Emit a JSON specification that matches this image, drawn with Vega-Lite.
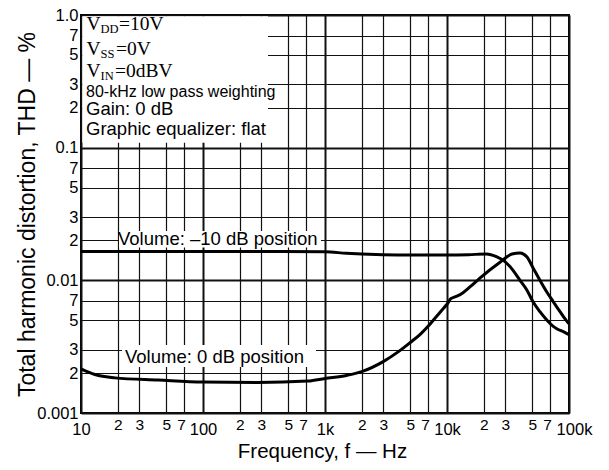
{
  "$schema": "https://vega.github.io/schema/vega-lite/v6.json",
  "width": 488,
  "height": 398,
  "autosize": {"type": "none"},
  "padding": {"left": 81, "top": 15, "right": 40, "bottom": 57},
  "background": "white",
  "config": {
    "view": {"stroke": "black", "strokeWidth": 2},
    "font": "Liberation Sans",
    "axis": {"labelFont": "Liberation Sans", "titleFont": "Liberation Sans", "labelColor": "black", "titleColor": "black", "titleFontWeight": "normal"}
  },
  "datasets": {
    "one": [{}],
    "curves": [
      {"series": "-10 dB", "freq": 10, "thd": 0.0165},
      {"series": "-10 dB", "freq": 30, "thd": 0.0165},
      {"series": "-10 dB", "freq": 100, "thd": 0.0165},
      {"series": "-10 dB", "freq": 300, "thd": 0.0165},
      {"series": "-10 dB", "freq": 1000, "thd": 0.0164},
      {"series": "-10 dB", "freq": 1500, "thd": 0.016},
      {"series": "-10 dB", "freq": 2000, "thd": 0.0158},
      {"series": "-10 dB", "freq": 3000, "thd": 0.0156},
      {"series": "-10 dB", "freq": 5000, "thd": 0.0155},
      {"series": "-10 dB", "freq": 10000, "thd": 0.0155},
      {"series": "-10 dB", "freq": 15000, "thd": 0.0156},
      {"series": "-10 dB", "freq": 21000, "thd": 0.0158},
      {"series": "-10 dB", "freq": 25700, "thd": 0.015},
      {"series": "-10 dB", "freq": 28800, "thd": 0.0142},
      {"series": "-10 dB", "freq": 32800, "thd": 0.0127},
      {"series": "-10 dB", "freq": 39700, "thd": 0.01},
      {"series": "-10 dB", "freq": 45000, "thd": 0.0085},
      {"series": "-10 dB", "freq": 50700, "thd": 0.0069},
      {"series": "-10 dB", "freq": 57800, "thd": 0.0058},
      {"series": "-10 dB", "freq": 66000, "thd": 0.005},
      {"series": "-10 dB", "freq": 74300, "thd": 0.0045},
      {"series": "-10 dB", "freq": 80000, "thd": 0.0043},
      {"series": "-10 dB", "freq": 89800, "thd": 0.0041},
      {"series": "-10 dB", "freq": 100000, "thd": 0.0039},
      {"series": "0 dB", "freq": 10, "thd": 0.00215},
      {"series": "0 dB", "freq": 13, "thd": 0.00195},
      {"series": "0 dB", "freq": 19, "thd": 0.00184},
      {"series": "0 dB", "freq": 43, "thd": 0.00177},
      {"series": "0 dB", "freq": 100, "thd": 0.00171},
      {"series": "0 dB", "freq": 280, "thd": 0.0017},
      {"series": "0 dB", "freq": 726, "thd": 0.00174},
      {"series": "0 dB", "freq": 1000, "thd": 0.00182},
      {"series": "0 dB", "freq": 1500, "thd": 0.00192},
      {"series": "0 dB", "freq": 2000, "thd": 0.00205},
      {"series": "0 dB", "freq": 3000, "thd": 0.00244},
      {"series": "0 dB", "freq": 4000, "thd": 0.0029},
      {"series": "0 dB", "freq": 5000, "thd": 0.0034},
      {"series": "0 dB", "freq": 6000, "thd": 0.0039},
      {"series": "0 dB", "freq": 7000, "thd": 0.0045},
      {"series": "0 dB", "freq": 8000, "thd": 0.0052},
      {"series": "0 dB", "freq": 9000, "thd": 0.0059},
      {"series": "0 dB", "freq": 10000, "thd": 0.0066},
      {"series": "0 dB", "freq": 10800, "thd": 0.0073},
      {"series": "0 dB", "freq": 11600, "thd": 0.0075},
      {"series": "0 dB", "freq": 12800, "thd": 0.0078},
      {"series": "0 dB", "freq": 15500, "thd": 0.00895},
      {"series": "0 dB", "freq": 18600, "thd": 0.0104},
      {"series": "0 dB", "freq": 27200, "thd": 0.0137},
      {"series": "0 dB", "freq": 34100, "thd": 0.0158},
      {"series": "0 dB", "freq": 39700, "thd": 0.0161},
      {"series": "0 dB", "freq": 45300, "thd": 0.015},
      {"series": "0 dB", "freq": 51000, "thd": 0.0123},
      {"series": "0 dB", "freq": 57800, "thd": 0.01},
      {"series": "0 dB", "freq": 65600, "thd": 0.0082},
      {"series": "0 dB", "freq": 74300, "thd": 0.0069},
      {"series": "0 dB", "freq": 84400, "thd": 0.0058},
      {"series": "0 dB", "freq": 98000, "thd": 0.0048},
      {"series": "0 dB", "freq": 100000, "thd": 0.0047}
    ]
  },
  "layer": [
    {
      "data": {"name": "curves"},
      "mark": {"type": "line", "interpolate": "monotone", "color": "black", "strokeWidth": 3},
      "encoding": {
        "x": {
          "field": "freq", "type": "quantitative",
          "scale": {"type": "log", "domain": [10, 100000]},
          "axis": {
            "title": "Frequency, f \u2014 Hz",
            "titleFontSize": 20.5,
            "titleX": 241, "titleY": 44, "titleAlign": "center", "titleBaseline": "alphabetic",
            "values": [10, 20, 30, 50, 70, 100, 200, 300, 500, 700, 1000, 2000, 3000, 5000, 7000, 10000, 20000, 30000, 50000, 70000, 100000],
            "labelExpr": "round(datum.value/pow(10,floor(log(datum.value)/LN10+1e-6)))==1 ? (datum.value>=1000 ? (datum.value/1000)+'k' : datum.value+'') : round(datum.value/pow(10,floor(log(datum.value)/LN10+1e-6)))+''",
            "labelFontSize": {"condition": {"test": "round(datum.value/pow(10,floor(log(datum.value)/LN10+1e-6)))==1", "value": 16.5}, "value": 15.5},
            "labelBaseline": {"condition": {"test": "round(datum.value/pow(10,floor(log(datum.value)/LN10+1e-6)))==1", "value": "line-top"}, "value": "top"},
            "labelOffset": {"condition": [{"test": "round(datum.value/pow(10,floor(log(datum.value)/LN10+1e-6)))==7", "value": -3}, {"test": "datum.value >= 99999", "value": 5}], "value": 0},
            "labelLineHeight": 24,
            "labelPadding": 4,
            "labelFlush": false,
            "labelOverlap": false,
            "ticks": false,
            "domain": false,
            "grid": true,
            "gridColor": "#111111",
            "gridWidth": {"condition": {"test": "round(datum.value/pow(10,floor(log(datum.value)/LN10+1e-6)))==1", "value": 2}, "value": 1.2}
          }
        },
        "y": {
          "field": "thd", "type": "quantitative",
          "scale": {"type": "log", "domain": [0.001, 1]},
          "axis": {
            "title": "Total harmonic distortion, THD \u2014 %",
            "titleFontSize": 23,
            "titleX": -47, "titleY": 199, "titleAlign": "center", "titleBaseline": "alphabetic", "titleAngle": 270,
            "values": [0.001, 0.002, 0.003, 0.005, 0.007, 0.01, 0.02, 0.03, 0.05, 0.07, 0.1, 0.2, 0.3, 0.5, 0.7, 1],
            "labelExpr": "datum.value > 0.99 ? '1.0' : (round(datum.value/pow(10,floor(log(datum.value)/LN10+1e-6)))==1 ? datum.value+'' : round(datum.value/pow(10,floor(log(datum.value)/LN10+1e-6)))+'')",
            "labelFontSize": 16.5,
            "labelPadding": 3,
            "labelFlush": false,
            "labelOverlap": false,
            "ticks": false,
            "domain": false,
            "grid": true,
            "gridColor": "#111111",
            "gridWidth": {"condition": {"test": "round(datum.value/pow(10,floor(log(datum.value)/LN10+1e-6)))==1", "value": 2}, "value": 1.2}
          }
        },
        "detail": {"field": "series"}
      }
    },
    {
      "data": {"name": "one"},
      "mark": {"type": "rect", "fill": "white"},
      "encoding": {
        "x": {"datum": 10.25, "type": "quantitative"},
        "x2": {"datum": 341},
        "y": {"datum": 0.98, "type": "quantitative"},
        "y2": {"datum": 0.109}
      }
    },
    {
      "data": {"name": "one"},
      "mark": {"type": "rect", "fill": "white"},
      "encoding": {
        "x": {"datum": 20.5, "type": "quantitative"},
        "x2": {"datum": 927},
        "y": {"datum": 0.0235, "type": "quantitative"},
        "y2": {"datum": 0.0177}
      }
    },
    {
      "data": {"name": "one"},
      "mark": {"type": "rect", "fill": "white"},
      "encoding": {
        "x": {"datum": 21.7, "type": "quantitative"},
        "x2": {"datum": 843},
        "y": {"datum": 0.003255, "type": "quantitative"},
        "y2": {"datum": 0.00222}
      }
    },
    {
      "data": {"name": "one"},
      "mark": {"type": "text", "text": "Volume: \u201310 dB position", "font": "Liberation Sans", "fontSize": 18.5, "align": "left", "baseline": "alphabetic", "color": "black"},
      "encoding": {
        "x": {"datum": 20.11, "type": "quantitative"},
        "y": {"datum": 0.01846, "type": "quantitative"}
      }
    },
    {
      "data": {"name": "one"},
      "mark": {"type": "text", "text": "Volume: 0 dB position", "font": "Liberation Sans", "fontSize": 18.5, "align": "left", "baseline": "alphabetic", "color": "black"},
      "encoding": {
        "x": {"datum": 22.95, "type": "quantitative"},
        "y": {"datum": 0.002381, "type": "quantitative"}
      }
    },
    {
      "data": {"name": "one"},
      "mark": {"type": "text", "text": "V", "font": "Liberation Serif", "fontSize": 19.5, "align": "left", "baseline": "alphabetic", "color": "black"},
      "encoding": {"x": {"datum": 11.09, "type": "quantitative"}, "y": {"datum": 0.7707, "type": "quantitative"}}
    },
    {
      "data": {"name": "one"},
      "mark": {"type": "text", "text": "DD", "font": "Liberation Serif", "fontSize": 12.5, "align": "left", "baseline": "alphabetic", "color": "black", "dx": 14, "dy": 3},
      "encoding": {"x": {"datum": 11.09, "type": "quantitative"}, "y": {"datum": 0.7707, "type": "quantitative"}}
    },
    {
      "data": {"name": "one"},
      "mark": {"type": "text", "text": "=10V", "font": "Liberation Serif", "fontSize": 19.5, "align": "left", "baseline": "alphabetic", "color": "black", "dx": 32.5},
      "encoding": {"x": {"datum": 11.09, "type": "quantitative"}, "y": {"datum": 0.7707, "type": "quantitative"}}
    },
    {
      "data": {"name": "one"},
      "mark": {"type": "text", "text": "V", "font": "Liberation Serif", "fontSize": 19.5, "align": "left", "baseline": "alphabetic", "color": "black"},
      "encoding": {"x": {"datum": 11.09, "type": "quantitative"}, "y": {"datum": 0.4994, "type": "quantitative"}}
    },
    {
      "data": {"name": "one"},
      "mark": {"type": "text", "text": "SS", "font": "Liberation Serif", "fontSize": 12.5, "align": "left", "baseline": "alphabetic", "color": "black", "dx": 14, "dy": 3},
      "encoding": {"x": {"datum": 11.09, "type": "quantitative"}, "y": {"datum": 0.4994, "type": "quantitative"}}
    },
    {
      "data": {"name": "one"},
      "mark": {"type": "text", "text": "=0V", "font": "Liberation Serif", "fontSize": 19.5, "align": "left", "baseline": "alphabetic", "color": "black", "dx": 29.5},
      "encoding": {"x": {"datum": 11.09, "type": "quantitative"}, "y": {"datum": 0.4994, "type": "quantitative"}}
    },
    {
      "data": {"name": "one"},
      "mark": {"type": "text", "text": "V", "font": "Liberation Serif", "fontSize": 19.5, "align": "left", "baseline": "alphabetic", "color": "black"},
      "encoding": {"x": {"datum": 11.09, "type": "quantitative"}, "y": {"datum": 0.3408, "type": "quantitative"}}
    },
    {
      "data": {"name": "one"},
      "mark": {"type": "text", "text": "IN", "font": "Liberation Serif", "fontSize": 12.5, "align": "left", "baseline": "alphabetic", "color": "black", "dx": 14, "dy": 3},
      "encoding": {"x": {"datum": 11.09, "type": "quantitative"}, "y": {"datum": 0.3408, "type": "quantitative"}}
    },
    {
      "data": {"name": "one"},
      "mark": {"type": "text", "text": "=0dBV", "font": "Liberation Serif", "fontSize": 19.5, "align": "left", "baseline": "alphabetic", "color": "black", "dx": 28.5},
      "encoding": {"x": {"datum": 11.09, "type": "quantitative"}, "y": {"datum": 0.3408, "type": "quantitative"}}
    },
    {
      "data": {"name": "one"},
      "mark": {"type": "text", "text": "80-kHz low pass weighting", "font": "Liberation Sans", "fontSize": 16, "align": "left", "baseline": "alphabetic", "color": "black"},
      "encoding": {"x": {"datum": 10.99, "type": "quantitative"}, "y": {"datum": 0.2409, "type": "quantitative"}}
    },
    {
      "data": {"name": "one"},
      "mark": {"type": "text", "text": "Gain: 0 dB", "font": "Liberation Sans", "fontSize": 18.5, "align": "left", "baseline": "alphabetic", "color": "black"},
      "encoding": {"x": {"datum": 10.99, "type": "quantitative"}, "y": {"datum": 0.1763, "type": "quantitative"}}
    },
    {
      "data": {"name": "one"},
      "mark": {"type": "text", "text": "Graphic equalizer: flat", "font": "Liberation Sans", "fontSize": 18.5, "align": "left", "baseline": "alphabetic", "color": "black"},
      "encoding": {"x": {"datum": 10.99, "type": "quantitative"}, "y": {"datum": 0.1246, "type": "quantitative"}}
    }
  ]
}
